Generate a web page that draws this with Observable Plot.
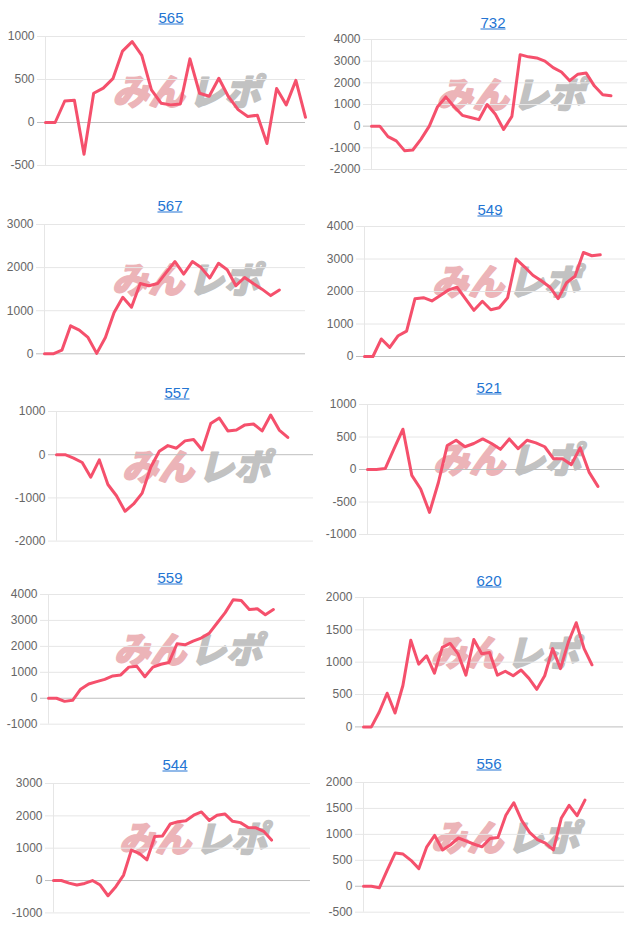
<!DOCTYPE html>
<html><head><meta charset="utf-8">
<script src="https://cdn.jsdelivr.net/npm/d3@7"></script>
<script src="https://cdn.jsdelivr.net/npm/@observablehq/plot@0.6"></script>
<style>
body{margin:0;background:#fff;}
#root{position:relative;width:640px;height:931px;overflow:hidden;font-family:"Liberation Sans",Arial,sans-serif;}
.title{position:absolute;transform:translate(-50%,-50%);font-size:15px;color:#2475d3;text-decoration:underline;white-space:nowrap;line-height:1;}
.panel{position:absolute;}
.panel svg{background:transparent;}
</style></head><body><div id="root"></div>
<script>
// ---- data ----
const titles = ["565","732","567","549","557","521","559","620","544","556"];

const v565 = [0,0,250,260,-370,340,400,510,830,940,780,380,225,205,215,740,340,305,515,300,150,70,85,-245,395,205,490,60];
const v732 = [0,0,-480,-680,-1130,-1100,-600,0,900,1350,900,500,400,300,1000,550,-150,450,3300,3200,3150,3000,2700,2500,2100,2400,2450,1850,1450,1400];
const v567 = [0,0,85,650,550,380,10,380,960,1310,1080,1630,1580,1630,1890,2140,1850,2140,2000,1760,2100,1950,1580,1770,1630,1500,1350,1480];
const v549 = [0,0,540,280,640,780,1780,1810,1710,1880,2050,2130,1770,1420,1700,1440,1500,1810,3000,2760,2500,2330,2140,1780,2270,2470,3200,3100,3130];
const v557 = [0,0,-80,-180,-520,-120,-690,-950,-1310,-1140,-890,-290,80,210,150,320,350,110,720,850,550,570,690,710,550,920,570,400];
const v521 = [0,0,15,320,620,-90,-300,-660,-200,370,450,350,400,470,400,310,470,320,450,410,350,165,165,75,335,-40,-260];
const v559 = [0,0,-120,-80,350,550,640,730,860,900,1200,1230,830,1200,1310,1380,2100,2060,2200,2320,2500,2900,3300,3800,3770,3420,3450,3220,3420];
const v620 = [0,0,230,520,215,640,1340,970,1100,830,1230,1290,1130,800,1350,1130,1150,800,860,790,880,750,580,790,1210,900,1310,1610,1210,960];
const v544 = [0,0,-80,-140,-90,0,-140,-470,-190,170,940,840,640,1360,1380,1750,1820,1850,2020,2120,1860,2020,2060,1830,1790,1640,1630,1520,1250];
const v556 = [0,0,-30,310,640,620,500,340,760,980,700,800,930,870,810,760,920,940,1370,1610,1270,1040,900,830,700,1310,1560,1360,1660];

const t565 = [-500,0,500,1000];
const t732 = [-2000,-1000,0,1000,2000,3000,4000];
const t567 = [0,1000,2000,3000];
const t549 = [0,1000,2000,3000,4000];
const t557 = [-2000,-1000,0,1000];
const t521 = [-1000,-500,0,500,1000];
const t559 = [-1000,0,1000,2000,3000,4000];
const t620 = [0,500,1000,1500,2000];
const t544 = [-1000,0,1000,2000,3000];
const t556 = [-500,0,500,1000,1500,2000];

const watermark = ["みん","レポ"];

const seriesList = [v565,v732,v567,v549,v557,v521,v559,v620,v544,v556];
const tickList = [t565,t732,t567,t549,t557,t521,t559,t620,t544,t556];

// ---- layout (page pixel positions) ----
const layout = [
  {col:0,   top:35.7,  bottom:164.7, left:45,  right:305, tx:171, ty:17,  slots:28},
  {col:320, top:39.3,  bottom:169.3, left:371, right:627, tx:493, ty:22,  slots:32},
  {col:0,   top:223.7, bottom:353,   left:44,  right:305, tx:170, ty:205, slots:31},
  {col:320, top:226,   bottom:356,   left:364, right:625, tx:490, ty:209, slots:32},
  {col:0,   top:410.7, bottom:540.3, left:56,  right:313, tx:177, ty:392, slots:31},
  {col:320, top:404.3, bottom:534.3, left:367, right:624, tx:489, ty:387, slots:30},
  {col:0,   top:594.3, bottom:724,   left:48,  right:305, tx:170, ty:577, slots:33},
  {col:320, top:597.3, bottom:726.7, left:363, right:623, tx:489, ty:580, slots:34},
  {col:0,   top:783.3, bottom:912.7, left:53,  right:310, tx:175, ty:764, slots:34},
  {col:320, top:782.3, bottom:912,   left:363, right:624, tx:489, ty:763, slots:34}
];

const root = document.getElementById("root");
const font = "'Liberation Sans', Arial, sans-serif";
const wmFont = "'Noto Sans CJK JP', sans-serif";

titles.forEach((title, k) => {
  const L = layout[k];
  const values = seriesList[k];
  const ticks = tickList[k];
  const data = values.map((v, i) => ({i, v}));
  const mt = 10, mb = 10;
  const h = L.bottom - L.top;
  const svg = Plot.plot({
    width: 320,
    height: h + mt + mb,
    marginTop: mt, marginBottom: mb,
    marginLeft: L.left - L.col,
    marginRight: L.col + 320 - L.right,
    style: {fontFamily: font, background: "transparent", overflow: "visible"},
    x: {domain: [0, L.slots - 1], axis: null},
    y: {domain: [ticks[0], ticks[ticks.length - 1]], axis: null},
    marks: [
      Plot.text([watermark[0]], {text: d => d, frameAnchor: "middle", textAnchor: "end", dx: 9, dy: -8,
        fontSize: 36, fontWeight: 900, fontStyle: "italic", fontFamily: wmFont, fill: "#ecb4b8",
        stroke: "#ecb4b8", strokeWidth: 1.6}),
      Plot.text([watermark[1]], {text: d => d, frameAnchor: "middle", textAnchor: "start", dx: 13, dy: -8,
        fontSize: 36, fontWeight: 900, fontStyle: "italic", fontFamily: wmFont, fill: "#c2c2c2",
        stroke: "#c2c2c2", strokeWidth: 1.6}),
      Plot.ruleX([0], {x: d => d, stroke: "#e6e6e6"}),
      Plot.ruleY(ticks.filter(t => t !== 0), {y: d => d, stroke: "#e6e6e6", insetLeft: -8}),
      Plot.ruleY(ticks.filter(t => t === 0), {y: d => d, stroke: "#bfbfbf", insetLeft: -8}),
      Plot.text(ticks, {y: d => d, text: d => String(d), frameAnchor: "left", textAnchor: "end", dx: -11,
        fontSize: 12, fill: "#666", fontFamily: font}),
      Plot.line(data, {x: "i", y: "v", stroke: "#f5506c", strokeWidth: 3, strokeLinejoin: "round", strokeLinecap: "round"})
    ]
  });
  const panel = document.createElement("div");
  panel.className = "panel";
  panel.style.left = L.col + "px";
  panel.style.top = (L.top - mt) + "px";
  panel.appendChild(svg);
  root.appendChild(panel);

  const t = document.createElement("div");
  t.className = "title";
  t.textContent = title;
  t.style.left = L.tx + "px";
  t.style.top = L.ty + "px";
  root.appendChild(t);
});
</script>
</body></html>
